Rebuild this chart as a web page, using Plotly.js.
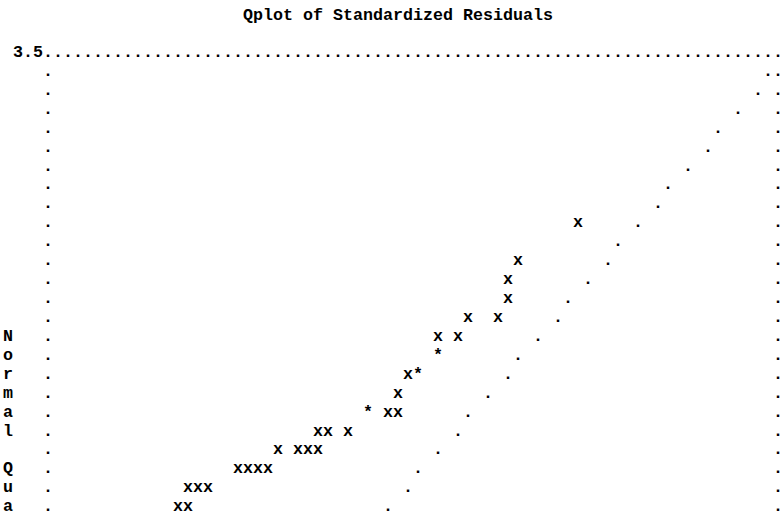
<!DOCTYPE html>
<html>
<head>
<meta charset="utf-8">
<script src="https://cdn.plot.ly/plotly-3.0.1.min.js"></script>
<style>html,body{margin:0;padding:0;background:#fff;}#chart{width:783px;height:516px;}</style>
</head>
<body>
<div id="chart"></div>
<script>
// Line-printer grid: column = character cell across, row = printed line down.
const titleText = "Qplot of Standardized Residuals";
const yTickLabel = "3.5";
const yTickRow = 0;
const yTitleChars = ["N","o","r","m","a","l","Q","u","a"];
const yTitleRows = [15,16,17,18,19,20,22,23,24];

// Observed standardized residuals (plot symbols)
const pointRows = [9,11,12,13,14,14,15,15,16,17,17,18,19,19,19,20,20,20,21,21,21,21,22,22,22,22,23,23,23,24,24];
const pointCols = [57,51,50,50,46,49,43,45,43,40,41,39,36,38,39,31,32,34,27,29,30,31,23,24,25,26,18,19,20,17,18];
const pointSymbols = ["x","x","x","x","x","x","x","x","*","x","*","x","*","x","x","x","x","x","x","x","x","x","x","x","x","x","x","x","x","x","x"];

// Reference line (dots)
const refRows = [1,2,3,4,5,6,7,8,9,10,11,12,13,14,15,16,17,18,19,20,21,22,23,24];
const refCols = [76,75,73,71,70,68,66,65,63,61,60,58,56,55,53,51,50,48,46,45,43,41,40,38];

// Frame of the printer plot
const frameLeftCol = 4, frameRightCol = 77, frameTopRow = 0, frameBottomRow = 24;

const font = {family: "Liberation Mono, Courier New, monospace", size: 16.67, color: "#000", weight: "bold"};

const fx = [], fy = [], ft = [];
for (let c = frameLeftCol; c <= frameRightCol; c++) { fx.push(c); fy.push(frameTopRow); ft.push("."); }
for (let r = frameTopRow + 1; r <= frameBottomRow; r++) {
  fx.push(frameLeftCol); fy.push(r); ft.push(".");
  fx.push(frameRightCol); fy.push(r); ft.push(".");
}

const base = {type: "scatter", mode: "text", textposition: "middle center", textfont: font, hoverinfo: "skip", cliponaxis: false};

const traces = [
  Object.assign({}, base, {x: fx, y: fy, text: ft, name: "frame"}),
  Object.assign({}, base, {x: refCols, y: refRows, text: refRows.map(() => "."), name: "reference"}),
  Object.assign({}, base, {x: pointCols, y: pointRows, text: pointSymbols, name: "residuals"}),
  Object.assign({}, base, {x: [frameLeftCol - 0.5], y: [yTickRow], text: [yTickLabel], textposition: "middle left", name: "tick"}),
  Object.assign({}, base, {x: yTitleRows.map(() => 0), y: yTitleRows, text: yTitleChars, name: "ytitle"})
];

const layout = {
  width: 783, height: 516,
  margin: {l: 0, r: 0, t: 0, b: 0, pad: 0},
  paper_bgcolor: "#fff", plot_bgcolor: "#fff",
  showlegend: false, hovermode: false,
  title: {text: titleText, font: font, x: 398 / 783, xanchor: "center", xref: "paper", y: 1 - 20 / 516, yanchor: "bottom", yref: "container"},
  xaxis: {range: [-0.8, 77.5], visible: false, fixedrange: true},
  yaxis: {range: [24.469, -2.789], visible: false, fixedrange: true}
};

Plotly.newPlot("chart", traces, layout, {staticPlot: true, displayModeBar: false});
</script>
</body>
</html>
